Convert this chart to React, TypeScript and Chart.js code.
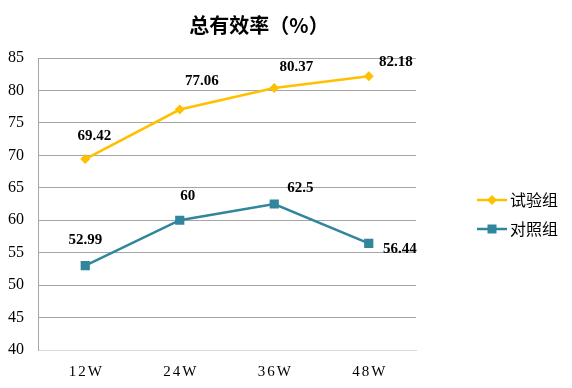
import React, { useEffect, useRef } from "react";
import { Chart, registerables } from "chart.js";

Chart.register(...registerables);

const categories = ["12W", "24W", "36W", "48W"];
const trialValues = [69.42, 77.06, 80.37, 82.18];
const controlValues = [52.99, 60, 62.5, 56.44];
const seriesNames = ["试验组", "对照组"];
const titleText = "总有效率（%）";

const trialColor = "#FFC000";
const controlColor = "#31859C";

// label offsets (px) relative to each point
const trialLabelOffsets = [[9, -23], [22, -28], [22, -21], [27, -14]];
const controlLabelOffsets = [[0, -26], [8, -24], [26, -16], [31, 6]];

const customDraw = {
  id: "customDraw",
  afterDraw(chart: any) {
    const ctx = chart.ctx;
    const xs = chart.scales.x;
    const area = chart.chartArea;
    ctx.save();
    // title
    ctx.fillStyle = "#000";
    ctx.font = "bold 20px 'Noto Sans CJK SC', sans-serif";
    ctx.textAlign = "center";
    ctx.textBaseline = "middle";
    ctx.fillText(titleText, 259, 25);

    // x labels
    ctx.font = "15px 'Liberation Serif', serif";
    (ctx as any).letterSpacing = "2px";
    categories.forEach((c, i) => {
      const x = xs.getPixelForValue(i);
      ctx.fillText(c, x + 1, area.bottom + 22);
    });
    (ctx as any).letterSpacing = "0px";

    // data labels
    ctx.font = "bold 15px 'Liberation Serif', serif";
    const offs = [trialLabelOffsets, controlLabelOffsets];
    chart.data.datasets.forEach((ds: any, di: number) => {
      const meta = chart.getDatasetMeta(di);
      meta.data.forEach((pt: any, i: number) => {
        const o = offs[di][i];
        ctx.fillText(String(ds.data[i]), pt.x + o[0], pt.y + o[1]);
      });
    });

    // legend
    const colors = [trialColor, controlColor];
    const styles = ["rectRot", "rect"];
    ctx.font = "16px 'Noto Sans CJK SC', sans-serif";
    ctx.textAlign = "left";
    seriesNames.forEach((name, i) => {
      const y = 200 + i * 29;
      ctx.strokeStyle = colors[i];
      ctx.lineWidth = 2.5;
      ctx.beginPath();
      ctx.moveTo(477, y);
      ctx.lineTo(507, y);
      ctx.stroke();
      ctx.fillStyle = colors[i];
      ctx.beginPath();
      if (styles[i] === "rectRot") {
        ctx.moveTo(492, y - 5);
        ctx.lineTo(497, y);
        ctx.lineTo(492, y + 5);
        ctx.lineTo(487, y);
        ctx.closePath();
      } else {
        ctx.rect(492 - 4.5, y - 4.5, 9, 9);
      }
      ctx.fill();
      ctx.fillStyle = "#000";
      ctx.fillText(name, 510, y);
    });
    ctx.restore();
  },
};

export default function App() {
  const ref = useRef<HTMLCanvasElement>(null);
  useEffect(() => {
    if (!ref.current) return;
    const chart = new Chart(ref.current, {
      type: "line",
      data: {
        labels: categories,
        datasets: [
          {
            label: seriesNames[0],
            data: trialValues,
            borderColor: trialColor,
            backgroundColor: trialColor,
            borderWidth: 2.5,
            pointStyle: "rectRot",
            pointRadius: 5,
            pointBorderWidth: 0,
            tension: 0,
          },
          {
            label: seriesNames[1],
            data: controlValues,
            borderColor: controlColor,
            backgroundColor: controlColor,
            borderWidth: 2.5,
            pointStyle: "rect",
            pointRadius: 6.5,
            pointBorderWidth: 0,
            tension: 0,
          },
        ],
      },
      options: {
        animation: false,
        responsive: true,
        maintainAspectRatio: false,
        layout: { padding: { left: 8, top: 58, right: 156, bottom: 30 } },
        plugins: {
          legend: { display: false },
          title: { display: false },
          tooltip: { enabled: false },
        },
        scales: {
          x: {
            offset: true,
            grid: { display: false },
            border: { display: true, color: "#d9d9d9", width: 1 },
            ticks: { display: false },
          },
          y: {
            min: 40,
            max: 85,
            afterFit: (scale: any) => {
              scale.width = 30;
            },
            ticks: {
              stepSize: 5,
              padding: 14,
              color: "#000",
              font: { family: "'Liberation Serif', serif", size: 16 },
            },
            grid: {
              drawTicks: false,
              color: (c: any) => (c.tick && c.tick.value === 40 ? "#d9d9d9" : "#a6a6a6"),
            },
            border: { display: true, color: "#a6a6a6", width: 1 },
          },
        },
      },
      plugins: [customDraw],
    });
    return () => chart.destroy();
  }, []);
  return (
    <div style={{ position: "fixed", left: 0, top: 0, width: 572, height: 388, background: "#fff" }}>
      <canvas ref={ref} />
    </div>
  );
}
